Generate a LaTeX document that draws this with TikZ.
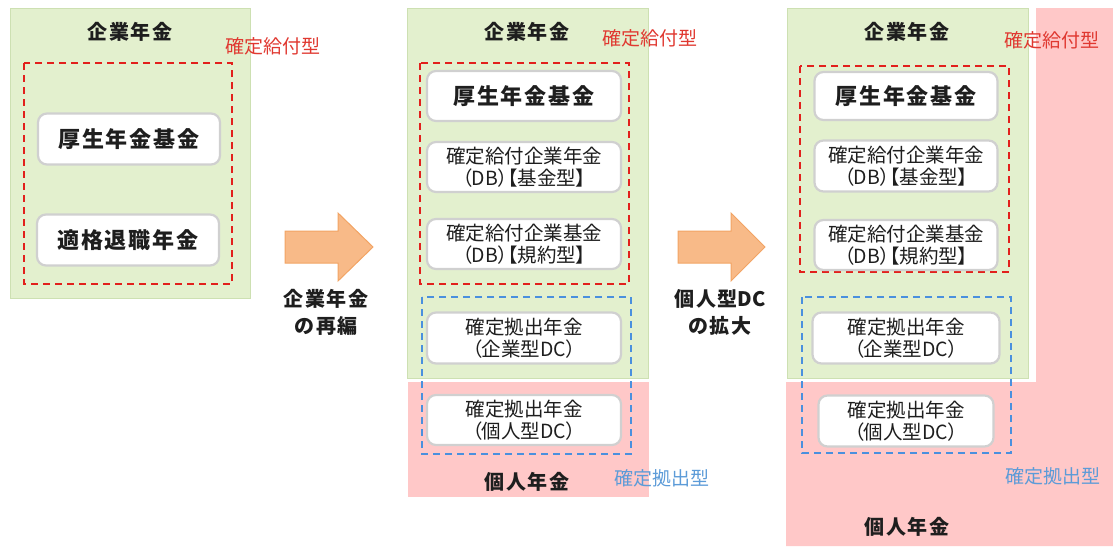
\documentclass[tikz,border=0pt]{standalone}
\usepackage{fontspec}
\setmainfont{Noto Sans CJK JP}
\usetikzlibrary{positioning}
\definecolor{gfill}{RGB}{227,240,206}
\definecolor{gline}{RGB}{205,224,178}
\definecolor{pfill}{RGB}{255,200,200}
\definecolor{afill}{RGB}{248,186,136}
\definecolor{aline}{RGB}{242,164,100}
\definecolor{rdash}{RGB}{226,32,28}
\definecolor{rtext}{RGB}{224,56,48}
\definecolor{bdash}{RGB}{74,144,222}
\definecolor{btext}{RGB}{92,155,216}
\definecolor{bxline}{RGB}{208,208,208}
\definecolor{tx}{RGB}{30,30,30}
\newcommand{\pl}[1]{{\addfontfeatures{RawFeature=+palt}#1}}
\newcommand{\nols}[1]{{\addfontfeatures{LetterSpace=0}#1}}
\tikzset{
  greenpanel/.style={fill=gfill,draw=gline,line width=0.8pt},
  pinkpanel/.style={fill=pfill,draw=none},
  reddash/.style={draw=rdash,line width=1.9pt,dash pattern=on 7pt off 5pt},
  bluedash/.style={draw=bdash,line width=1.9pt,dash pattern=on 7pt off 5pt},
  wbox/.style={fill=white,draw=bxline,line width=2.2pt,rounded corners=9pt,inner sep=0pt,align=center,text=tx,font=\fontsize{19.5}{22}\selectfont},
  bigbox/.style={wbox,font=\fontsize{22}{26}\bfseries\addfontfeatures{LetterSpace=9}\selectfont},
  title/.style={text=tx,font=\fontsize{20}{27}\bfseries\addfontfeatures{LetterSpace=9}\selectfont,align=center},
  redlbl/.style={text=rtext,font=\fontsize{19}{22}\selectfont},
  bluelbl/.style={text=btext,font=\fontsize{19}{22}\selectfont},
  bigarrow/.style={fill=afill,draw=aline,line width=1pt,line join=miter},
}
\begin{document}
\begin{tikzpicture}[x=1pt,y=-1pt]
\useasboundingbox (0,0) rectangle (1113,546);
% ---------- panel 1 ----------
\draw[greenpanel] (10,8) rectangle (250,298);
\node[title] (t1) at (130,32) {企業年金};
\node[redlbl] (r1) at (273,46) {確定給付型};
\draw[reddash] (24,63) rectangle (232,284);
\node[bigbox,minimum width=182pt,minimum height=51pt] (a1) at (129,139) {厚生年金基金};
\node[bigbox,minimum width=182pt,minimum height=51pt] (a2) at (128,240) {適格退職年金};
% ---------- arrow 1 ----------
\draw[bigarrow] (285,231) -- (338,231) -- (338,213) -- (373,247) -- (338,281) -- (338,263) -- (285,263) -- cycle;
\node[title] (c1) at (326,312) {企業年金\\の再編};
% ---------- panel 2 ----------
\draw[greenpanel] (407,8) rectangle (648,378);
\fill[pfill] (408,382) rectangle (649,497);
\node[title] (t2) at (527,32) {企業年金};
\node[redlbl] (r2) at (650,38) {確定給付型};
\draw[reddash] (420,63) rectangle (629,284);
\node[bigbox,minimum width=194pt,minimum height=50pt] (b1) at (524,96) {厚生年金基金};
\node[wbox,minimum width=194pt,minimum height=50pt] (b2) at (524,167) {確定給付企業年金\\\pl{（DB）【基金型】}};
\node[wbox,minimum width=194pt,minimum height=50pt] (b3) at (524,244) {確定給付企業基金\\\pl{（DB）【規約型】}};
\draw[bluedash] (422,297) rectangle (631,454);
\node[wbox,minimum width=194pt,minimum height=51pt] (b4) at (524,338) {確定拠出年金\\\pl{（企業型DC）}};
\node[wbox,minimum width=194pt,minimum height=50pt] (b5) at (524,420) {確定拠出年金\\\pl{（個人型DC）}};
\node[title] (p2) at (527,482) {個人年金};
\node[bluelbl] (bl2) at (662,478) {確定拠出型};
% ---------- arrow 2 ----------
\draw[bigarrow] (678,231) -- (731,231) -- (731,213) -- (765,247) -- (731,281) -- (731,263) -- (678,263) -- cycle;
\node[title] (c2) at (720,312) {個人型\nols{DC}\\の拡大};
% ---------- panel 3 ----------
\fill[pfill] (786,546) -- (786,382) -- (1036,382) -- (1036,8) -- (1113,8) -- (1113,546) -- cycle;
\draw[greenpanel] (787,8) rectangle (1028,378);
\node[title] (t3) at (907,32) {企業年金};
\node[redlbl] (r3) at (1052,40) {確定給付型};
\draw[reddash] (800,66) rectangle (1009,272);
\node[bigbox,minimum width=183pt,minimum height=48pt] (d1) at (906,96) {厚生年金基金};
\node[wbox,minimum width=183pt,minimum height=51pt] (d2) at (906,166) {確定給付企業年金\\\pl{（DB）【基金型】}};
\node[wbox,minimum width=183pt,minimum height=50pt] (d3) at (906,245) {確定給付企業基金\\\pl{（DB）【規約型】}};
\draw[bluedash] (802,297) rectangle (1011,453);
\node[wbox,minimum width=187pt,minimum height=51pt] (d4) at (906,338) {確定拠出年金\\\pl{（企業型DC）}};
\node[wbox,minimum width=175pt,minimum height=51pt] (d5) at (906,421) {確定拠出年金\\\pl{（個人型DC）}};
\node[bluelbl] (bl3) at (1053,476) {確定拠出型};
\node[title] (p3) at (907,527) {個人年金};
\end{tikzpicture}
\end{document}
